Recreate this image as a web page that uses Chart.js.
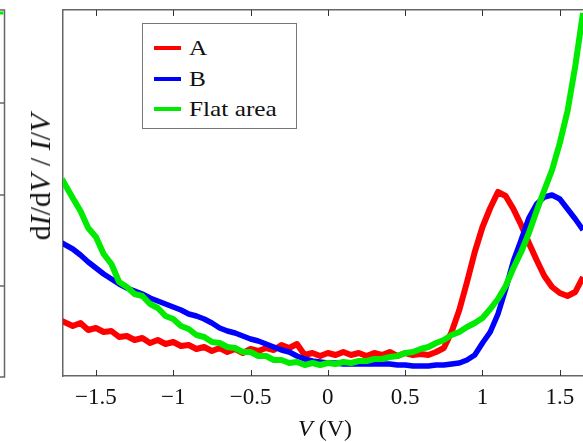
<html>
    <head>
        <title>dI/dV / I/V</title>
        <script src="https://cdn.jsdelivr.net/npm/chart.js@4.4.0/dist/chart.umd.min.js"></script>
        <style>
            body { margin: 0; background: #fff; }
            #wrap { position: relative; width: 583px; height: 442px; font-family: "Liberation Serif", serif; color: #111; }
            #ytitle { position: absolute; left: 40px; top: 177px; transform: translate(-50%, -50%) rotate(-90deg); font-size: 30px; white-space: nowrap; }
            #xtitle { position: absolute; left: 325px; top: 428px; transform: translate(-50%, -50%); font-size: 24px; white-space: nowrap; }
            #legend { position: absolute; left: 142px; top: 23px; width: 155px; height: 106px; border: 1px solid #777; background: #fff; box-sizing: border-box; }
            .row { position: absolute; left: 0; height: 30px; width: 100%; }
            .swatch { position: absolute; left: 11px; top: 13px; width: 27px; height: 4px; }
            .label { position: absolute; left: 46px; top: 0; font-size: 22px; line-height: 30px; white-space: nowrap; transform-origin: left center; transform: scaleX(1.15); }
        </style>
    </head>

    <body>
        <div id="wrap">
            <canvas id="didv" width="583" height="442"></canvas>
            <div id="ytitle">d<i>I</i>/d<i>V</i> / <i>I</i>/<i>V</i></div>
            <div id="xtitle"><i>V</i> (V)</div>
            <div id="legend"></div>
        </div>

        <script>
            // bias voltage (V)
            const voltage = [-1.72, -1.65, -1.60, -1.55, -1.50, -1.45, -1.40, -1.35, -1.30, -1.25,
                             -1.20, -1.15, -1.10, -1.05, -1.00, -0.95, -0.90, -0.85, -0.80, -0.75,
                             -0.70, -0.65, -0.60, -0.55, -0.50, -0.45, -0.40, -0.35, -0.30, -0.25,
                             -0.20, -0.15, -0.10, -0.05, 0.00, 0.05, 0.10, 0.15, 0.20, 0.25,
                             0.30, 0.35, 0.40, 0.45, 0.50, 0.55, 0.60, 0.65, 0.70, 0.75,
                             0.80, 0.85, 0.90, 0.95, 1.00, 1.05, 1.10, 1.15, 1.20, 1.25,
                             1.30, 1.35, 1.40, 1.45, 1.50, 1.55, 1.60, 1.65];

            // normalized conductance
            const spotA = [0.55, 0.50, 0.53, 0.46, 0.48, 0.44, 0.45, 0.39, 0.40, 0.36,
                           0.38, 0.33, 0.36, 0.32, 0.34, 0.30, 0.31, 0.27, 0.29, 0.25,
                           0.28, 0.24, 0.27, 0.23, 0.27, 0.25, 0.28, 0.26, 0.31, 0.28,
                           0.32, 0.21, 0.23, 0.20, 0.23, 0.21, 0.24, 0.21, 0.23, 0.20,
                           0.23, 0.21, 0.24, 0.20, 0.23, 0.21, 0.22, 0.21, 0.24, 0.28,
                           0.44, 0.66, 0.94, 1.24, 1.49, 1.68, 1.84, 1.80, 1.67, 1.51,
                           1.33, 1.16, 1.00, 0.89, 0.83, 0.80, 0.84, 0.99];

            const spotB = [1.33, 1.27, 1.21, 1.14, 1.08, 1.02, 0.97, 0.92, 0.88, 0.85,
                           0.82, 0.78, 0.75, 0.72, 0.69, 0.66, 0.62, 0.60, 0.57, 0.53,
                           0.48, 0.45, 0.43, 0.40, 0.37, 0.35, 0.32, 0.29, 0.26, 0.24,
                           0.20, 0.17, 0.15, 0.14, 0.13, 0.13, 0.12, 0.12, 0.12, 0.12,
                           0.12, 0.12, 0.12, 0.11, 0.11, 0.10, 0.10, 0.10, 0.11, 0.11,
                           0.12, 0.13, 0.16, 0.21, 0.33, 0.44, 0.62, 0.87, 1.15, 1.36,
                           1.58, 1.72, 1.79, 1.81, 1.77, 1.67, 1.57, 1.46];

            const flatArea = [1.97, 1.78, 1.65, 1.48, 1.39, 1.22, 1.12, 0.94, 0.89, 0.82,
                              0.80, 0.72, 0.68, 0.60, 0.57, 0.50, 0.47, 0.41, 0.39, 0.34,
                              0.33, 0.29, 0.28, 0.24, 0.24, 0.20, 0.20, 0.16, 0.16, 0.13,
                              0.14, 0.11, 0.13, 0.11, 0.13, 0.12, 0.14, 0.13, 0.15, 0.15,
                              0.17, 0.17, 0.19, 0.20, 0.23, 0.24, 0.27, 0.29, 0.33, 0.36,
                              0.41, 0.44, 0.49, 0.53, 0.58, 0.67, 0.77, 0.90, 1.08, 1.24,
                              1.43, 1.65, 1.86, 2.06, 2.33, 2.65, 3.10, 3.63];

            const seriesNames = ['A', 'B', 'Flat area'];
            const xTicks = [-1.5, -1, -0.5, 0, 0.5, 1, 1.5];

            const colors = ['rgb(255,0,0)', 'rgb(0,0,255)', 'rgb(0,235,0)'];
            const spineColor = '#666';

            const toPoints = (ys) => voltage.map((v, i) => ({ x: v, y: ys[i] }));

            // small inward tick marks + the edge of the neighbouring panel
            const frameBits = {
                id: 'frameBits',
                beforeDraw(chart) {
                    const ctx = chart.ctx;
                    ctx.save();
                    ctx.strokeStyle = spineColor;
                    ctx.lineWidth = 1.5;
                    ctx.beginPath();
                    ctx.moveTo(0, 10); ctx.lineTo(4.5, 10); ctx.lineTo(4.5, 377); ctx.lineTo(0, 377);
                    [103, 195, 286].forEach(y => { ctx.moveTo(0, y); ctx.lineTo(4.5, y); });
                    ctx.stroke();
                    ctx.strokeStyle = colors[2];
                    ctx.lineWidth = 3;
                    ctx.beginPath();
                    ctx.moveTo(0, 13); ctx.lineTo(3.5, 13);
                    ctx.stroke();
                    ctx.restore();
                },
                afterDraw(chart) {
                    const { ctx, chartArea, scales } = chart;
                    ctx.save();
                    ctx.strokeStyle = '#333';
                    ctx.lineWidth = 1;
                    ctx.beginPath();
                    xTicks.forEach(v => {
                        const x = Math.round(scales.x.getPixelForValue(v)) + 0.5;
                        ctx.moveTo(x, chartArea.bottom);
                        ctx.lineTo(x, chartArea.bottom - 6);
                        ctx.moveTo(x, chartArea.top);
                        ctx.lineTo(x, chartArea.top + 6);
                    });
                    ctx.stroke();
                    ctx.restore();
                }
            };

            const ctx = document.getElementById('didv').getContext('2d');

            const chart = new Chart(ctx, {
                type: 'line',
                data: {
                    datasets: [
                        { label: seriesNames[0], data: toPoints(spotA), borderColor: colors[0], borderWidth: 6, order: 2 },
                        { label: seriesNames[1], data: toPoints(spotB), borderColor: colors[1], borderWidth: 5.5, order: 1 },
                        { label: seriesNames[2], data: toPoints(flatArea), borderColor: colors[2], borderWidth: 6, order: 0 }
                    ]
                },
                options: {
                    responsive: false,
                    animation: false,
                    layout: { padding: 0 },
                    elements: { point: { radius: 0 }, line: { tension: 0, borderJoinStyle: 'round' } },
                    plugins: { legend: { display: false }, tooltip: { enabled: false } },
                    scales: {
                        x: {
                            type: 'linear',
                            position: 'bottom',
                            min: -1.713,
                            max: 1.65,
                            afterBuildTicks: (scale) => { scale.ticks = xTicks.map(v => ({ value: v })); },
                            afterFit: (scale) => { scale.height = 66; },
                            ticks: {
                                padding: 8,
                                color: '#111',
                                maxRotation: 0,
                                font: { family: 'Liberation Serif', size: 23 },
                                callback: (v) => String(v).replace('-', '\u2212')
                            },
                            grid: { drawOnChartArea: false, drawTicks: false },
                            border: { display: true, color: spineColor, width: 1.5 }
                        },
                        x2: {
                            type: 'linear',
                            position: 'top',
                            min: -1.713,
                            max: 1.65,
                            afterFit: (scale) => { scale.height = 10; },
                            ticks: { display: false },
                            grid: { drawOnChartArea: false, drawTicks: false },
                            border: { display: true, color: spineColor, width: 1.5 }
                        },
                        y: {
                            min: 0,
                            max: 3.66,
                            afterFit: (scale) => { scale.width = 63; },
                            ticks: { display: false },
                            grid: { drawOnChartArea: false, drawTicks: false },
                            border: { display: true, color: spineColor, width: 1.5 }
                        }
                    }
                },
                plugins: [frameBits]
            });

            // legend box inside the plot, built from the datasets
            const legend = document.getElementById('legend');
            chart.data.datasets.forEach((ds, i) => {
                const row = document.createElement('div');
                row.className = 'row';
                row.style.top = (9 + i * 30.5) + 'px';
                row.innerHTML = `<div class="swatch" style="background:${ds.borderColor}"></div><div class="label">${ds.label}</div>`;
                legend.appendChild(row);
            });
        </script>
    </body>
</html>
